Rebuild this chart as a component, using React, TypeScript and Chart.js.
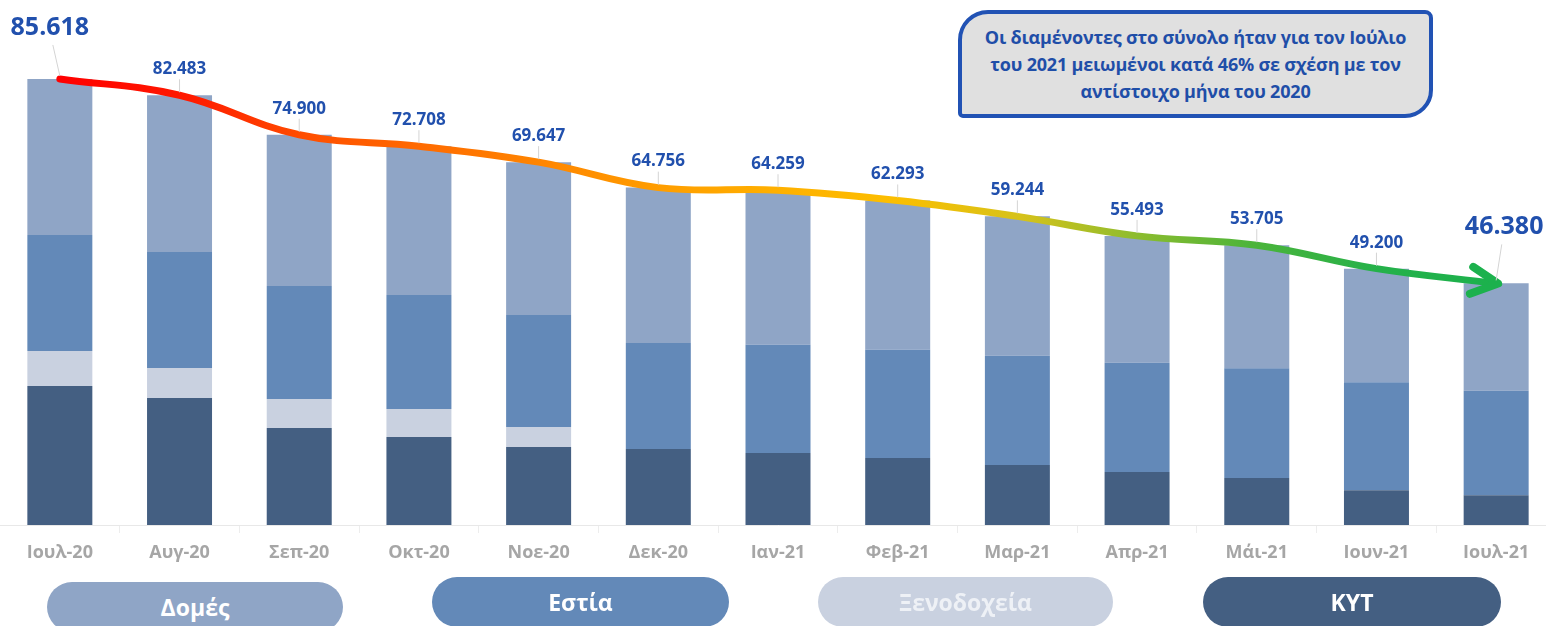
import React, { useEffect, useRef } from "react";
import { Chart, registerables } from "chart.js";

Chart.register(...registerables);

const months = ["Ιουλ-20", "Αυγ-20", "Σεπ-20", "Οκτ-20", "Νοε-20", "Δεκ-20", "Ιαν-21", "Φεβ-21", "Μαρ-21", "Απρ-21", "Μάι-21", "Ιουν-21", "Ιουλ-21"];
const kyt = [26680, 24380, 18620, 16890, 14970, 14590, 13820, 12860, 11520, 10170, 9020, 6660, 5700];
const xenodoxeia = [6720, 5760, 5570, 5380, 3840, 0, 0, 0, 0, 0, 0, 0, 0];
const estia = [22270, 22270, 21690, 21880, 21500, 20350, 20790, 20790, 20980, 20980, 21060, 20730, 20080];
const domes = [29948, 30073, 29020, 28558, 29337, 29816, 29649, 28643, 26744, 24343, 23625, 21810, 20600];
const totals = [85618, 82483, 74900, 72708, 69647, 64756, 64259, 62293, 59244, 55493, 53705, 49200, 46380];

const noteLines = [
  "Οι διαμένοντες στο σύνολο ήταν για τον Ιούλιο",
  "του 2021 μειωμένοι κατά 46% σε σχέση με τον",
  "αντίστοιχο μήνα του 2020",
];

const FONT = "'Open Sans', 'Noto Sans', sans-serif";

const fmt = (v: number) => String(v).replace(/\B(?=(\d{3})+(?!\d))/g, ".");

const gradientStops: [number, string][] = [
  [0, "#ff0000"],
  [0.09, "#ff1a00"],
  [0.17, "#ff4e00"],
  [0.25, "#ff6a00"],
  [0.33, "#ff8400"],
  [0.42, "#ff9e00"],
  [0.5, "#ffb000"],
  [0.58, "#fcbe00"],
  [0.67, "#d6c21a"],
  [0.75, "#8dbc2e"],
  [0.83, "#4cb43a"],
  [0.92, "#24b14a"],
  [1, "#1cb14d"],
];

const labelsPlugin = {
  id: "valueLabels",
  afterDatasetsDraw(chart: any) {
    const ctx = chart.ctx;
    const meta = chart.getDatasetMeta(4);
    const pts = meta.data;
    const n = pts.length;
    // arrow head
    const last = pts[n - 1];
    const ang = Math.atan2(last.y - last.cp1y, last.x - last.cp1x);
    const tipX = last.x + 2 * Math.cos(ang);
    const tipY = last.y + 2 * Math.sin(ang);
    ctx.save();
    ctx.strokeStyle = "#1cb14d";
    ctx.lineWidth = 8;
    ctx.lineCap = "round";
    ctx.lineJoin = "round";
    const L = 30;
    const spread = 0.47;
    ctx.beginPath();
    ctx.moveTo(tipX - L * Math.cos(ang - spread), tipY - L * Math.sin(ang - spread));
    ctx.lineTo(tipX, tipY);
    ctx.lineTo(tipX - L * Math.cos(ang + spread), tipY - L * Math.sin(ang + spread));
    ctx.stroke();
    ctx.restore();

    ctx.save();
    ctx.textAlign = "center";
    ctx.textBaseline = "middle";
    pts.forEach((p: any, i: number) => {
      const first = i === 0;
      const lastOne = i === n - 1;
      const big = first || lastOne;
      const dx = first ? -10 : lastOne ? 8 : 0;
      const dy = first ? 51 : lastOne ? 56 : 26;
      const lx = p.x + dx;
      const ly = p.y - dy;
      ctx.strokeStyle = "#d4d4d4";
      ctx.lineWidth = 1;
      ctx.beginPath();
      ctx.moveTo(lx + (big ? -dx * 0.3 : 0), ly + (big ? 17 : 10));
      ctx.lineTo(p.x, p.y - 3);
      ctx.stroke();
      ctx.fillStyle = "#2150ad";
      ctx.font = `bold ${big ? 25 : 17}px ${FONT}`;
      ctx.fillText(fmt(totals[i]), lx, ly);
    });
    ctx.restore();
  },
};

export default function App() {
  const ref = useRef<HTMLCanvasElement | null>(null);

  useEffect(() => {
    if (!ref.current) return;
    const barBase = {
      type: "bar" as const,
      stack: "bars",
      order: 1,
      borderWidth: 0,
      categoryPercentage: 1,
      barPercentage: 0.543,
    };
    const chart = new Chart(ref.current, {
      type: "bar",
      data: {
        labels: months,
        datasets: [
          { ...barBase, label: "KYT", data: kyt, backgroundColor: "#445f82" },
          { ...barBase, label: "Ξενοδοχεία", data: xenodoxeia, backgroundColor: "#c9d1e0" },
          { ...barBase, label: "Εστία", data: estia, backgroundColor: "#6389b8" },
          { ...barBase, label: "Δομές", data: domes, backgroundColor: "#8fa5c6" },
          {
            type: "line" as const,
            label: "Σύνολο",
            data: totals,
            stack: "total",
            order: 0,
            tension: 0.4,
            borderWidth: 7,
            pointRadius: 0,
            fill: false,
            borderCapStyle: "round",
            borderColor: (c: any) => {
              const ch = c.chart;
              const area = ch.chartArea;
              if (!area) return "#ff0000";
              const g = ch.ctx.createLinearGradient(60, 0, 1495, 0);
              gradientStops.forEach(([o, col]) => g.addColorStop(o, col));
              return g;
            },
          } as any,
        ],
      },
      options: {
        responsive: false,
        animation: false,
        devicePixelRatio: 1,
        layout: { padding: { top: 4, left: 0, right: 0, bottom: 0 } },
        plugins: { legend: { display: false }, tooltip: { enabled: false } },
        scales: {
          x: {
            stacked: true,
            offset: true,
            afterFit: (s: any) => {
              s.height = 101;
            },
            grid: {
              display: true,
              drawOnChartArea: false,
              drawTicks: true,
              tickLength: 8,
              color: "#ededed",
              offset: true,
            },
            border: { display: true, color: "#e8e8e8", width: 1 },
            ticks: {
              color: "#a6a6a6",
              padding: 9,
              font: { family: FONT, size: 18, weight: "bold" },
              maxRotation: 0,
              autoSkip: false,
            },
          },
          y: {
            display: false,
            stacked: true,
            min: 0,
            max: 100000,
          },
        },
      },
      plugins: [labelsPlugin],
    });
    return () => chart.destroy();
  }, []);

  const pills = [
    { label: "Δομές", bg: "#8fa5c6", fg: "#ffffff", left: 47, width: 296, top: 582 },
    { label: "Εστία", bg: "#6389b8", fg: "#ffffff", left: 432, width: 297, top: 577 },
    { label: "Ξενοδοχεία", bg: "#c9d1e0", fg: "#eef1f6", left: 818, width: 295, top: 577 },
    { label: "KYT", bg: "#445f82", fg: "#ffffff", left: 1203, width: 298, top: 577 },
  ];

  return (
    <div
      style={{
        position: "fixed",
        left: 0,
        top: 0,
        width: 1546,
        height: 626,
        overflow: "hidden",
        background: "#ffffff",
      }}
    >
      <canvas ref={ref} width={1556} height={626} style={{ position: "absolute", left: 0, top: 0 }} />
      <div
        style={{
          position: "absolute",
          left: 958,
          top: 10,
          width: 475,
          height: 108,
          boxSizing: "border-box",
          border: "4px solid #2152b4",
          background: "#e0e0e0",
          borderRadius: "30px 8px 28px 5px",
          display: "flex",
          flexDirection: "column",
          justifyContent: "center",
          alignItems: "center",
          fontFamily: FONT,
          fontWeight: 700,
          fontSize: 18,
          letterSpacing: -0.2,
          lineHeight: "27px",
          color: "#1f4ea8",
          textAlign: "center",
        }}
      >
        {noteLines.map((t) => (
          <div key={t}>{t}</div>
        ))}
      </div>
      {pills.map((p) => (
        <div
          key={p.label}
          style={{
            position: "absolute",
            left: p.left,
            top: p.top,
            width: p.width,
            height: 50,
            borderRadius: 25,
            background: p.bg,
            color: p.fg,
            fontFamily: FONT,
            fontWeight: 700,
            fontSize: 23,
            display: "flex",
            alignItems: "center",
            justifyContent: "center",
          }}
        >
          {p.label}
        </div>
      ))}
    </div>
  );
}
